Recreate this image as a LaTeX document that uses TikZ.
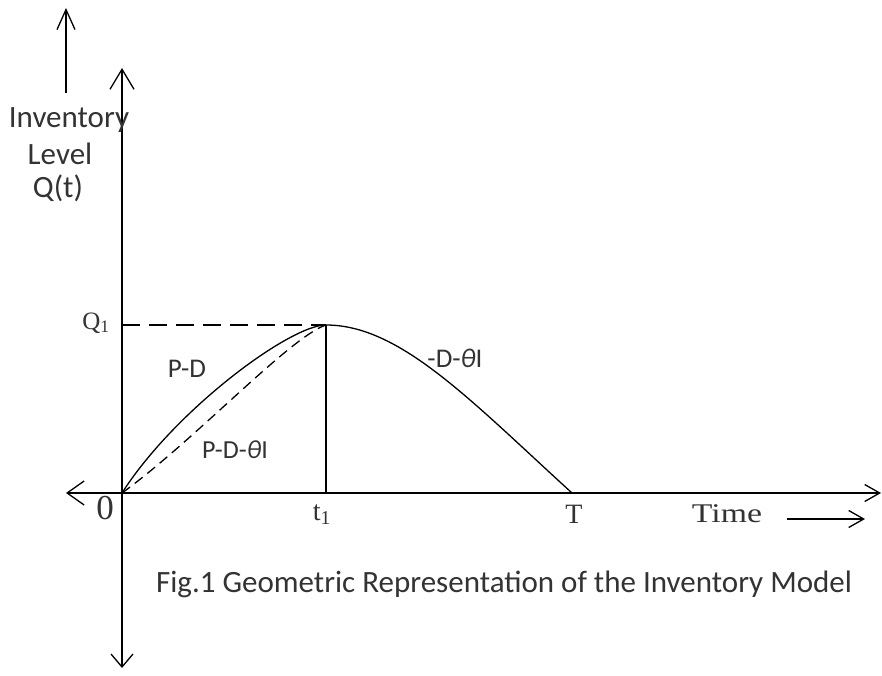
\documentclass[tikz,border=0pt]{standalone}
\usepackage{fontspec}
\usetikzlibrary{arrows.meta}
\newfontfamily\calfont{Carlito}
\newfontfamily\timesfont{Liberation Serif}
\newfontfamily\timeswide{Liberation Serif}[FakeStretch=1.25]
\newcommand\fsz[1]{\fontsize{#1pt}{#1pt}\selectfont}
\begin{document}
\begin{tikzpicture}[x=1pt,y=-1pt,line join=round,
  axis/.style={line width=1.7pt,black},
  curve/.style={line width=1.3pt,black},
  lbl/.style={inner sep=0pt,anchor=base,text=black!80},
  calib/.style={lbl,font=\calfont\fsz{#1}},
  serif/.style={lbl,font=\timesfont\fsz{#1}},
  serifw/.style={lbl,font=\timeswide\fsz{#1}}]
\useasboundingbox (0,0) rectangle (882,676);
\fill[white] (0,0) rectangle (882,676);
% key points
\coordinate (O) at (122,493);
\coordinate (ytop) at (122,68);
\coordinate (ybot) at (122,668);
\coordinate (xl) at (66,493);
\coordinate (xr) at (881,493);
\coordinate (Q) at (122,325);
\coordinate (P) at (326,325);
\coordinate (t1) at (326,493);
\coordinate (Tp) at (572,493);
\coordinate (a1) at (66,93);
\coordinate (a2) at (66,8);
\coordinate (b1) at (787,519);
\coordinate (b2) at (865,519);
% axes
\draw[axis,{Straight Barb[length=13pt,width=22pt,line width=1.3pt]}-{Straight Barb[length=20pt,width=24pt,line width=1.3pt]}] (ybot) -- (ytop);
\draw[axis,{Straight Barb[length=17pt,width=24pt,line width=1.3pt]}-{Straight Barb[length=15pt,width=17pt,line width=1.3pt]}] (xl) -- (xr);
\draw[axis,-{Straight Barb[length=20pt,width=18pt,line width=1.3pt]}] (a1) -- (a2);
\draw[axis,-{Straight Barb[length=15pt,width=17pt,line width=1.3pt]}] (b1) -- (b2);
% curves
\draw[curve,dash pattern=on 18pt off 9pt] (Q) -- (P);
\draw[axis] (P) -- (t1);
\draw[curve] (O) .. controls (175,410) and (290,325) .. (P);
\draw[curve,dash pattern=on 10pt off 6pt] (O) .. controls (195,440) and (290,337) .. (P);
\draw[curve] (P) .. controls (400,325) and (470,400) .. (Tp);
% labels
\node[calib=31] (inv) at (69,128) {Inventory};
\node[calib=31] (lev) at (60,165) {Level};
\node[calib=31] (qt) at (58,198) {Q(t)};
\node[calib=27] (pd) at (187,377) {P-D};
\node[calib=26] (pdt) at (235,458) {P-D-{\itshape θ}I};
\node[calib=27] (dt) at (455,367) {-D-{\itshape θ}I};
\node[serif=25] (q1) at (96,329) {Q\textsubscript{1}};
\node[serif=35] (zero) at (105,519) {0};
\node[serif=28] (t1l) at (322,520) {t\textsubscript{1}};
\node[serif=28] (TT) at (574,523) {T};
\node[serifw=27] (time) at (727,522) {Time};
\node[calib=31] (cap) at (504,592) {Fig.1 Geometric Representation of the Inventory Model};
\end{tikzpicture}
\end{document}
